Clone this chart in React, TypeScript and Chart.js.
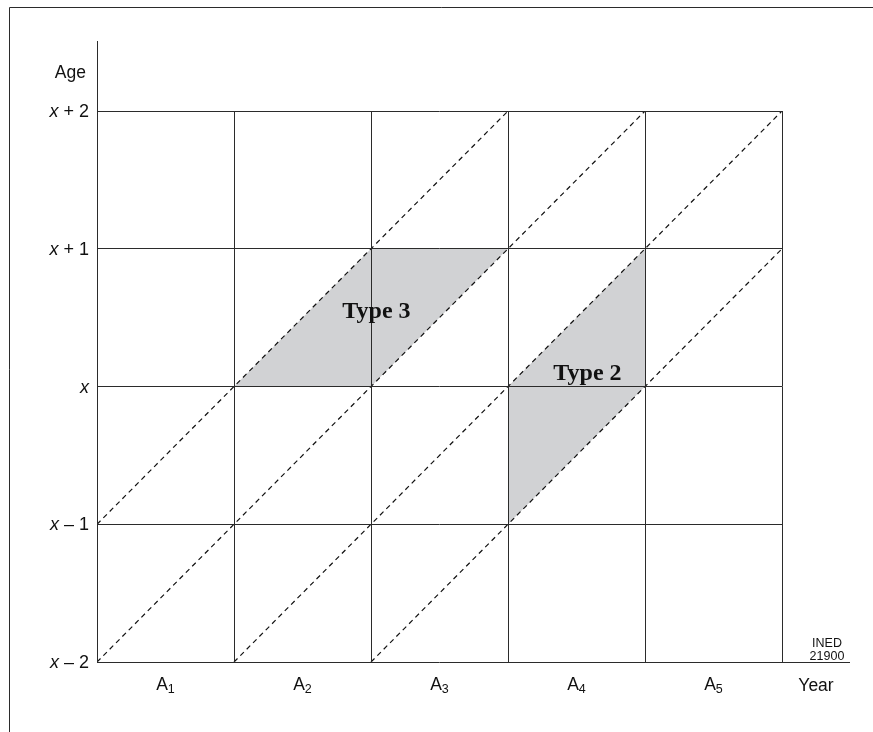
import React, { useEffect, useRef } from 'react';
import { Chart, registerables } from 'chart.js';

Chart.register(...registerables);

// Year periods A1..A5 (subscripts)
const yearSubscripts = ['1', '2', '3', '4', '5'];
// Age tick offsets relative to x
const ageOffsets = [2, 1, 0, -1, -2];
const yearMin = 0;
const yearMax = 5;
const ageMin = -2;
const ageMax = 2;

// Diagonal life lines (year, age) end points
const lifeline1 = [{ x: 0, y: -1 }, { x: 3, y: 2 }];
const lifeline2 = [{ x: 0, y: -2 }, { x: 4, y: 2 }];
const lifeline3 = [{ x: 1, y: -2 }, { x: 5, y: 2 }];
const lifeline4 = [{ x: 2, y: -2 }, { x: 5, y: 1 }];

// Shaded observation areas
const type3Area = [{ x: 1, y: 0 }, { x: 2, y: 1 }, { x: 3, y: 1 }, { x: 2, y: 0 }, { x: 1, y: 0 }];
const type2Area = [{ x: 3, y: -1 }, { x: 3, y: 0 }, { x: 4, y: 1 }, { x: 4, y: 0 }, { x: 3, y: -1 }];

const typeLabels = ['Type 3', 'Type 2'];
const typeLabelYears = [2.04, 3.58];
const typeLabelAges = [0.5, 0.05];

const ageTitle = 'Age';
const yearTitle = 'Year';
const sourceNote = ['INED', '21900'];

const SANS = '"Liberation Sans", Arial, Helvetica, sans-serif';
const SERIF = '"Liberation Serif", "Times New Roman", serif';
const LINE = '#2b2b2b';

const decorPlugin = {
  id: 'decor',
  afterDraw(chart: any) {
    const ctx = chart.ctx as CanvasRenderingContext2D;
    const xs = chart.scales.x;
    const ys = chart.scales.y;
    const left = Math.floor(xs.getPixelForValue(yearMin)) + 0.5;
    const right = xs.getPixelForValue(yearMax);
    const top = ys.getPixelForValue(ageMax);
    const bottom = Math.floor(ys.getPixelForValue(ageMin)) + 0.5;

    ctx.save();
    ctx.strokeStyle = LINE;
    ctx.lineWidth = 1;
    ctx.setLineDash([]);
    // outer frame (top & left)
    ctx.beginPath();
    ctx.moveTo(9.5, 732);
    ctx.lineTo(9.5, 7.5);
    ctx.lineTo(873, 7.5);
    ctx.stroke();
    // axis extensions
    ctx.beginPath();
    ctx.moveTo(left, 41);
    ctx.lineTo(left, top);
    ctx.moveTo(right, bottom);
    ctx.lineTo(850, bottom);
    ctx.stroke();

    ctx.fillStyle = '#111';
    ctx.textBaseline = 'alphabetic';

    // Age title
    ctx.font = `17.5px ${SANS}`;
    ctx.textAlign = 'right';
    ctx.fillText(ageTitle, 86, 78);

    // Age tick labels
    ageOffsets.forEach((off) => {
      const y = ys.getPixelForValue(off) + 6;
      const rest = off > 0 ? ` + ${off}` : off < 0 ? ` \u2013 ${-off}` : '';
      ctx.font = `italic 18px ${SANS}`;
      const wx = ctx.measureText('x').width;
      ctx.font = `18px ${SANS}`;
      const wr = ctx.measureText(rest).width;
      const xStart = 89 - wx - wr;
      ctx.textAlign = 'left';
      ctx.font = `italic 18px ${SANS}`;
      ctx.fillText('x', xStart, y);
      ctx.font = `18px ${SANS}`;
      ctx.fillText(rest, xStart + wx, y);
    });

    // Year labels A1..A5
    yearSubscripts.forEach((s, i) => {
      const cx = (xs.getPixelForValue(i) + xs.getPixelForValue(i + 1)) / 2;
      ctx.font = `17.5px ${SANS}`;
      const wa = ctx.measureText('A').width;
      ctx.font = `12.5px ${SANS}`;
      const ws = ctx.measureText(s).width;
      const x0 = cx - (wa + ws) / 2;
      ctx.textAlign = 'left';
      ctx.font = `17.5px ${SANS}`;
      ctx.fillText('A', x0, 690);
      ctx.font = `12.5px ${SANS}`;
      ctx.fillText(s, x0 + wa, 693);
    });

    // Year title
    ctx.font = `17.5px ${SANS}`;
    ctx.textAlign = 'center';
    ctx.fillText(yearTitle, right + 34, 691);

    // Source note
    ctx.font = `12.5px ${SANS}`;
    ctx.textAlign = 'center';
    ctx.fillText(sourceNote[0], right + 45, bottom - 16);
    ctx.fillText(sourceNote[1], right + 45, bottom - 3);

    // Type labels
    ctx.font = `bold 24px ${SERIF}`;
    ctx.textAlign = 'center';
    typeLabels.forEach((t, i) => {
      ctx.fillText(t, xs.getPixelForValue(typeLabelYears[i]), ys.getPixelForValue(typeLabelAges[i]));
    });
    ctx.restore();
  },
};

function dashed(data: { x: number; y: number }[]) {
  return {
    data,
    borderColor: '#111',
    borderWidth: 1.2,
    borderDash: [5, 4],
    fill: false,
    pointRadius: 0,
    order: 1,
  };
}

function area(data: { x: number; y: number }[]) {
  return {
    data,
    borderColor: 'rgba(0,0,0,0)',
    borderWidth: 1,
    backgroundColor: '#d1d2d4',
    fill: 'shape',
    pointRadius: 0,
    order: 2,
  };
}

export default function App() {
  const ref = useRef<HTMLCanvasElement>(null);
  useEffect(() => {
    if (!ref.current) return;
    const chart = new Chart(ref.current, {
      type: 'line',
      data: {
        datasets: [
          dashed(lifeline1),
          dashed(lifeline2),
          dashed(lifeline3),
          dashed(lifeline4),
          area(type3Area),
          area(type2Area),
        ] as any,
      },
      options: {
        responsive: false,
        animation: false,
        layout: { padding: { left: 97, right: 91, top: 111, bottom: 70 } },
        plugins: { legend: { display: false }, tooltip: { enabled: false } },
        scales: {
          x: {
            type: 'linear',
            min: yearMin,
            max: yearMax,
            ticks: { display: false, stepSize: 1 },
            grid: { color: LINE, drawTicks: false, z: 1, lineWidth: 1 },
            border: { display: false },
            afterFit: (s: any) => {
              s.height = 0;
            },
          },
          y: {
            type: 'linear',
            min: ageMin,
            max: ageMax,
            ticks: { display: false, stepSize: 1 },
            grid: { color: LINE, drawTicks: false, z: 1, lineWidth: 1 },
            border: { display: false },
            afterFit: (s: any) => {
              s.width = 0;
            },
          },
        },
      } as any,
      plugins: [decorPlugin],
    });
    return () => chart.destroy();
  }, []);
  return (
    <div style={{ position: 'absolute', left: 0, top: 0, width: 873, height: 732, background: '#fff' }}>
      <canvas ref={ref} width={873} height={732} style={{ display: 'block' }} />
    </div>
  );
}
